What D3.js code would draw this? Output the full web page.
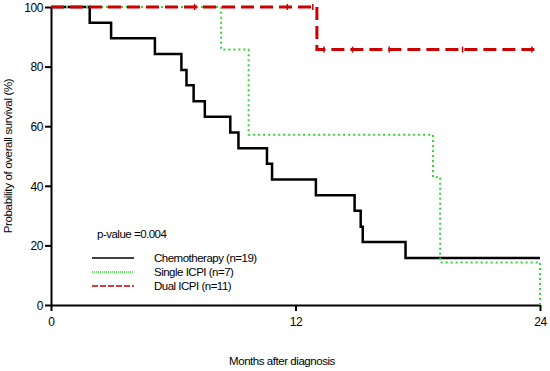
<!DOCTYPE html>
<html>
<head>
<meta charset="utf-8">
<script src="https://cdn.jsdelivr.net/npm/d3@7"></script>
<style>
  body { margin: 0; background: #fff; }
  text { font-family: "Liberation Sans", Arial, sans-serif; fill: #000; }
</style>
</head>
<body>
<svg class="chart"></svg>
<script>
// Kaplan-Meier steps (months, % surviving)
var chemoTimes = [0, 1.9, 2.95, 5.1, 6.4, 6.65, 7.0, 7.55, 8.8, 9.2, 10.6, 10.85, 13.0, 14.9, 15.2, 15.3, 17.4, 24];
var chemoSurv  = [100, 94.7, 89.5, 84.2, 78.9, 73.7, 68.4, 63.2, 57.9, 52.6, 47.4, 42.1, 36.8, 31.6, 26.3, 21.1, 15.8, 15.8];

var singleTimes = [0, 8.35, 9.7, 18.75, 19.1, 24];
var singleSurv  = [100, 85.7, 57.1, 42.9, 14.3, 0];

var dualTimes = [0, 13.05, 24];
var dualSurv  = [100, 85.7, 85.7];
var dualCensored = [7.05, 11.6, 12.85, 13.4, 14.8, 16.6, 20.2, 23.6];

var xTicks = [0, 12, 24];
var yTicks = [0, 20, 40, 60, 80, 100];
var legendLabels = ["Chemotherapy (n=19)", "Single ICPI (n=7)", "Dual ICPI (n=11)"];
var pValueText = "p-value =0.004";

(function () {
    'use strict';

    var margin = {top: 7, right: 10, bottom: 66, left: 51},
        width = 550 - margin.left - margin.right,
        height = 371 - margin.top - margin.bottom;

    var svg = d3.select(".chart")
        .attr("width", 550)
        .attr("height", 371);

    var chart = svg.append("g")
        .attr("transform", "translate(" + margin.left + "," + margin.top + ")");

    var x = d3.scaleLinear().domain([0, 24]).range([0, width]);
    var y = d3.scaleLinear().domain([0, 100]).range([height, 0]);

    // axes
    var xAxis = chart.append("g")
        .attr("transform", "translate(0," + height + ")")
        .call(d3.axisBottom(x).tickValues(xTicks).tickSize(6).tickPadding(6).tickSizeOuter(0));
    var yAxis = chart.append("g")
        .call(d3.axisLeft(y).tickValues(yTicks).tickSize(6).tickPadding(2).tickSizeOuter(0));

    [xAxis, yAxis].forEach(function (a) {
        a.select(".domain").attr("stroke", "#000").attr("stroke-width", 2);
        a.selectAll(".tick line").attr("stroke", "#000").attr("stroke-width", 2);
        a.selectAll("text").style("font-size", "12px").style("letter-spacing", "-0.4px").attr("fill", "#000");
    });
    // y labels sit at the middle of the tick
    yAxis.selectAll("text").attr("dy", "0.35em");

    // axis titles
    svg.append("text")
        .attr("x", 282)
        .attr("y", 365)
        .attr("text-anchor", "middle")
        .style("font-size", "11.5px")
        .style("letter-spacing", "-0.45px")
        .text("Months after diagnosis");

    svg.append("text")
        .attr("transform", "translate(12," + (margin.top + height / 2) + ") rotate(-90)")
        .attr("text-anchor", "middle")
        .style("font-size", "11.5px")
        .style("letter-spacing", "-0.35px")
        .text("Probability of overall survival (%)");

    function steps(times, surv) {
        return times.map(function (t, i) { return [t, surv[i]]; });
    }

    var line = d3.line()
        .x(function (d) { return x(d[0]); })
        .y(function (d) { return y(d[1]); })
        .curve(d3.curveStepAfter);

    var styles = [
        {color: "#000000", width: 2.5, dash: null},
        {color: "#33d633", width: 2, dash: "2,3"},
        {color: "#cc0000", width: 3, dash: "13,6"}
    ];

    var series = [
        steps(chemoTimes, chemoSurv),
        steps(singleTimes, singleSurv),
        steps(dualTimes, dualSurv)
    ];

    series.forEach(function (s, i) {
        chart.append("path")
            .datum(s)
            .attr("fill", "none")
            .attr("stroke", styles[i].color)
            .attr("stroke-width", styles[i].width)
            .attr("stroke-dasharray", styles[i].dash)
            .attr("d", line);
    });

    // censor marks on the dual ICPI curve
    function survAt(t) {
        var v = dualSurv[0];
        dualTimes.forEach(function (tt, i) { if (tt <= t) v = dualSurv[i]; });
        return v;
    }
    chart.selectAll(".censor")
        .data(dualCensored).enter()
        .append("line")
        .attr("class", "censor")
        .attr("x1", function (d) { return x(d); })
        .attr("x2", function (d) { return x(d); })
        .attr("y1", function (d) { return y(survAt(d)) - 3; })
        .attr("y2", function (d) { return y(survAt(d)) + 3; })
        .attr("stroke", "#cc0000")
        .attr("stroke-width", 1.5);

    // legend
    svg.append("text")
        .attr("x", 97)
        .attr("y", 238)
        .style("font-size", "11.5px")
        .style("letter-spacing", "-0.5px")
        .text(pValueText);

    var legend = svg.selectAll(".legend")
        .data(legendLabels).enter()
        .append("g")
        .attr("class", "legend")
        .attr("transform", function (d, i) { return "translate(92," + (258 + i * 14) + ")"; });

    legend.append("line")
        .attr("x1", 0).attr("x2", 42)
        .attr("stroke", function (d, i) { return styles[i].color; })
        .attr("stroke-width", 1.5)
        .attr("stroke-dasharray", function (d, i) { return i === 1 ? "1,1" : (i === 2 ? "6,2" : null); });

    legend.append("text")
        .attr("x", 62)
        .attr("y", 4)
        .style("font-size", "11.5px")
        .style("letter-spacing", "-0.5px")
        .text(function (d) { return d; });
})();
</script>
</body>
</html>
